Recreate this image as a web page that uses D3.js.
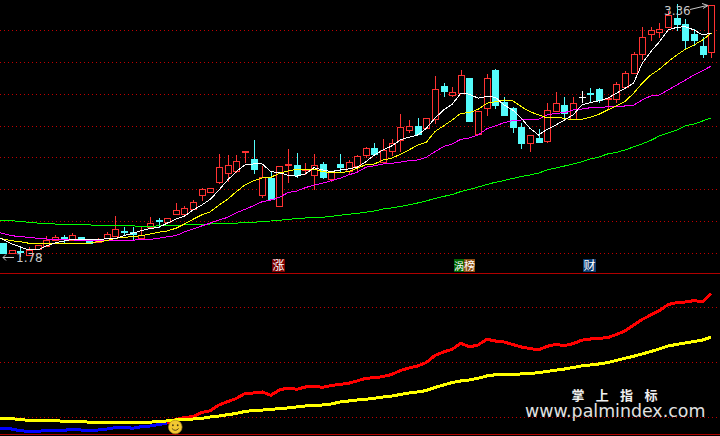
<!DOCTYPE html>
<html><head><meta charset="utf-8">
<style>html,body{margin:0;padding:0;background:#000;overflow:hidden}svg{display:block}</style>
<script src="https://cdn.jsdelivr.net/npm/d3@7/dist/d3.min.js"></script></head>
<body><svg id="c" width="720" height="436"></svg>
<script>
const opens=[1.863,1.797,1.814,1.789,1.825,1.844,1.882,1.902,1.882,1.900,1.875,1.869,1.894,1.907,1.941,1.929,1.894,1.963,2.010,1.995,2.045,2.047,2.078,2.166,2.185,2.248,2.304,2.317,2.426,2.388,2.166,2.273,2.097,2.346,2.351,2.315,2.288,2.357,2.265,2.357,2.317,2.346,2.415,2.457,2.373,2.442,2.508,2.574,2.598,2.585,2.642,2.847,2.794,2.807,2.899,2.545,2.712,2.949,2.748,2.711,2.591,2.493,2.522,2.505,2.694,2.727,2.640,2.781,2.807,2.828,2.762,2.765,2.844,2.929,3.048,3.173,3.186,3.217,3.276,3.238,3.175,3.100,3.064];
const closes=[1.800,1.819,1.806,1.819,1.850,1.882,1.900,1.888,1.913,1.882,1.863,1.885,1.919,1.951,1.936,1.922,1.913,1.988,1.998,2.020,2.070,2.081,2.118,2.200,2.206,2.338,2.351,2.376,2.439,2.328,2.275,2.141,2.348,2.359,2.290,2.327,2.355,2.275,2.309,2.342,2.370,2.407,2.457,2.422,2.445,2.489,2.589,2.596,2.547,2.646,2.828,2.817,2.809,2.916,2.629,2.692,2.897,2.729,2.667,2.593,2.493,2.541,2.499,2.698,2.740,2.677,2.740,2.781,2.802,2.761,2.770,2.859,2.929,3.048,3.155,3.198,3.205,3.295,3.238,3.138,3.138,3.050,3.357];
const highs=[1.863,1.819,1.838,1.838,1.850,1.907,1.913,1.913,1.926,1.900,1.875,1.894,1.932,2.032,1.966,1.965,1.965,2.026,2.022,2.020,2.114,2.097,2.133,2.210,2.206,2.422,2.415,2.415,2.439,2.510,2.346,2.313,2.348,2.453,2.428,2.363,2.420,2.371,2.309,2.420,2.384,2.415,2.468,2.489,2.516,2.516,2.671,2.633,2.646,2.646,2.911,2.868,2.841,2.949,2.899,2.692,2.924,2.956,2.778,2.717,2.615,2.541,2.577,2.740,2.809,2.778,2.778,2.817,2.834,2.834,2.770,2.872,2.943,3.062,3.219,3.217,3.246,3.320,3.364,3.270,3.207,3.155,3.357];
const lows=[1.800,1.797,1.781,1.789,1.825,1.844,1.882,1.863,1.882,1.882,1.863,1.869,1.894,1.907,1.913,1.888,1.894,1.963,1.963,1.988,2.045,2.047,2.078,2.133,2.185,2.241,2.252,2.311,2.373,2.304,2.154,2.141,2.097,2.248,2.279,2.296,2.200,2.269,2.254,2.315,2.301,2.321,2.405,2.415,2.373,2.415,2.442,2.562,2.547,2.585,2.618,2.788,2.786,2.807,2.629,2.545,2.667,2.709,2.667,2.562,2.461,2.441,2.499,2.499,2.694,2.635,2.640,2.750,2.750,2.750,2.709,2.750,2.844,2.929,3.018,3.138,3.155,3.217,3.200,3.079,3.106,3.033,3.033];
const ma5=[1.894,1.857,1.838,1.819,1.819,1.844,1.863,1.875,1.886,1.886,1.882,1.882,1.890,1.890,1.909,1.924,1.940,1.953,1.961,1.987,2.012,2.032,2.070,2.101,2.137,2.196,2.258,2.311,2.353,2.359,2.359,2.311,2.304,2.288,2.282,2.296,2.336,2.321,2.311,2.321,2.328,2.338,2.373,2.415,2.447,2.472,2.510,2.527,2.541,2.583,2.646,2.698,2.734,2.803,2.797,2.772,2.782,2.778,2.729,2.698,2.646,2.583,2.541,2.577,2.604,2.635,2.667,2.729,2.744,2.755,2.772,2.803,2.834,2.866,2.991,3.064,3.127,3.200,3.217,3.221,3.200,3.169,3.180];
const ma10=[1.892,1.877,1.871,1.861,1.861,1.857,1.857,1.857,1.857,1.857,1.861,1.871,1.877,1.892,1.899,1.902,1.909,1.919,1.930,1.938,1.955,1.982,2.012,2.039,2.059,2.101,2.137,2.185,2.227,2.254,2.271,2.275,2.301,2.315,2.326,2.326,2.326,2.311,2.304,2.304,2.311,2.332,2.355,2.359,2.384,2.395,2.420,2.447,2.478,2.495,2.562,2.598,2.635,2.677,2.681,2.702,2.740,2.750,2.761,2.756,2.719,2.687,2.667,2.648,2.652,2.646,2.635,2.640,2.652,2.671,2.698,2.723,2.750,2.803,2.866,2.918,2.954,3.001,3.043,3.079,3.106,3.138,3.180];
const ma30=[1.927,1.909,1.902,1.899,1.892,1.888,1.884,1.882,1.882,1.880,1.880,1.877,1.877,1.877,1.880,1.880,1.886,1.886,1.892,1.902,1.909,1.932,1.951,1.970,1.988,2.007,2.024,2.053,2.074,2.097,2.122,2.133,2.150,2.179,2.189,2.210,2.227,2.238,2.254,2.269,2.290,2.307,2.338,2.348,2.359,2.363,2.370,2.380,2.384,2.401,2.436,2.468,2.485,2.514,2.522,2.541,2.579,2.598,2.618,2.631,2.635,2.640,2.640,2.667,2.677,2.681,2.698,2.704,2.712,2.712,2.719,2.719,2.723,2.728,2.761,2.786,2.792,2.824,2.855,2.886,2.918,2.945,2.974];
const ma120=[2.005,2.003,1.997,1.993,1.988,1.987,1.982,1.980,1.980,1.976,1.976,1.974,1.974,1.971,1.970,1.970,1.968,1.968,1.970,1.971,1.974,1.976,1.978,1.980,1.982,1.984,1.987,1.988,1.990,1.993,1.997,2.001,2.005,2.012,2.015,2.020,2.022,2.024,2.030,2.037,2.043,2.049,2.056,2.064,2.076,2.083,2.092,2.103,2.114,2.127,2.142,2.155,2.167,2.186,2.199,2.214,2.230,2.244,2.255,2.268,2.280,2.290,2.302,2.321,2.334,2.346,2.359,2.373,2.390,2.403,2.422,2.431,2.447,2.466,2.485,2.507,2.535,2.554,2.572,2.598,2.610,2.629,2.648];
const fastLine=[-10.4,-10.9,-12.5,-13,-13,-12.2,-12.1,-12.1,-11.2,-11.8,-11.8,-11.8,-10.9,-9.7,-9.3,-10.2,-8.8,-8.2,-6.8,-5.7,-2.3,-0.3,0.3,4.1,5.7,10.9,13.9,16.8,21.3,21.8,22.7,19.7,24.5,26.3,25.1,27.2,27.8,26.9,28.6,29.5,30.6,32.7,35.1,35.6,36.7,38.5,42.2,44.4,46.3,49.4,55.8,59,61.4,66.8,63.5,65.3,70.5,68.9,68,65.8,63.5,62.1,60.8,64.1,65.9,64.7,66.5,69.6,70.7,71.4,71.9,74.8,78,83.4,88.4,92.5,96.4,102,103.7,104.3,105.5,104.6,112];
const slowLine=[-1.5,-1.5,-2.4,-3,-3,-3,-3.2,-3.9,-3.9,-3.9,-4.8,-4.8,-4.8,-4.8,-4.8,-4.8,-4.8,-4.8,-3.9,-3.6,-2.7,-2.4,-1.8,-1.2,0,0.9,2.1,3.2,5,5.9,6.3,6.8,7.7,8.2,9.1,10,10.6,10.9,11.8,13.6,14.5,15.4,16.1,17,18.1,19,20.4,21.8,22.7,24,26.8,29,31.3,32.7,33.6,35.1,37.2,38.3,38.7,38.8,39,39.5,40.2,41.3,42.4,43.5,44.9,46.3,47.2,48.1,49.4,51.2,53.2,55.1,57.1,59.4,61.7,64.4,65.8,67.1,68.5,69.8,72.6];
const priceGrid=[1.8,2.0,2.2,2.4,2.6,2.8,3.0,3.2];
const indicatorGrid=[0,50,100];
const lowLabel="1.78", highLabel="3.36";
const tags=[{t:"涨",bg:"#7a0000"},{t:"涡",bg:"#006400"},{t:"榜",bg:"#8a4b10"},{t:"财",bg:"#0a3a6e"}];
const brandCn=["掌","上","指","标"], brandUrl="www.palmindex.com";

const RED="#ff3232",CYAN="#54fcfc",GRID="#c00000";
const svg=d3.select("#c");
svg.append("rect").attr("width",720).attr("height",436).attr("fill","#000");
const n=opens.length;
const x=d3.scaleLinear().domain([0,n-1]).range([3.06,711.3]);
const y=d3.scaleLinear().domain([1.8,3.2]).range([253,30]);
const yi=d3.scaleLinear().domain([0,100]).range([417,306.7]);
const X=i=>Math.round(x(i));
const lx=i=>i===0?x(-0.36):x(i); // the first reading runs to the left edge of the plot

// grids
const grid=svg.append("g").attr("stroke",GRID).attr("stroke-width",1).attr("stroke-dasharray","1 3").attr("shape-rendering","crispEdges");
priceGrid.forEach(v=>grid.append("line").attr("x1",0).attr("x2",720).attr("y1",Math.round(y(v))+.5).attr("y2",Math.round(y(v))+.5));
indicatorGrid.forEach(v=>grid.append("line").attr("x1",0).attr("x2",720).attr("y1",Math.round(yi(v))+.5).attr("y2",Math.round(yi(v))+.5));
[273,434].forEach(p=>svg.append("line").attr("x1",0).attr("x2",720).attr("y1",p+.5).attr("y2",p+.5).attr("stroke","#b00000").attr("shape-rendering","crispEdges"));

// candles
const g=svg.append("g").attr("shape-rendering","crispEdges");
d3.range(n).forEach(i=>{
  const up=closes[i]>opens[i],flat=closes[i]===opens[i];
  const col=flat?"#fff":up?RED:CYAN;
  const top=Math.round(y(Math.max(opens[i],closes[i]))),bot=Math.round(y(Math.min(opens[i],closes[i])));
  const h=Math.round(y(highs[i])),l=Math.round(y(lows[i]));
  const cx=X(i);
  g.append("line").attr("x1",cx+.5).attr("x2",cx+.5).attr("y1",h).attr("y2",l+1).attr("stroke",col);
  if(flat){g.append("line").attr("x1",cx-3).attr("x2",cx+4).attr("y1",top+.5).attr("y2",top+.5).attr("stroke",col);}
  else if(up){
    if(bot-top<3){g.append("rect").attr("x",cx-3).attr("y",top).attr("width",7).attr("height",2).attr("fill",col);}
    else{g.append("rect").attr("x",cx-3+.5).attr("y",top+.5).attr("width",6).attr("height",bot-top).attr("fill","#000").attr("stroke",col);}
  } else {
    g.append("rect").attr("x",cx-3).attr("y",top).attr("width",7).attr("height",Math.max(bot-top+1,2)).attr("fill",col);
  }
});

// moving averages
const line=d3.line().x((d,i)=>lx(i)).y(d=>y(d));
[[ma120,"#00ff00"],[ma30,"#ff00ff"],[ma10,"#ffff00"],[ma5,"#ffffff"]].forEach(([s,c])=>
  svg.append("path").attr("d",line(s)).attr("fill","none").attr("stroke",c).attr("stroke-width",1).attr("shape-rendering","crispEdges"));

// indicator: fast line changes colour where it crosses the slow one
const ilineF=d3.line().x(d=>lx(d)).y(d=>yi(fastLine[d]));
const ilineS=d3.line().x((d,i)=>lx(i)).y(d=>yi(d));
const cross=d3.range(n).findIndex(i=>fastLine[i]>slowLine[i]);
const thick=p=>p.attr("fill","none").attr("stroke-width",3).attr("shape-rendering","crispEdges");
svg.append("path").attr("d",ilineF(d3.range(0,cross))).attr("stroke","#0000ff").call(thick);
svg.append("path").attr("d",ilineF(d3.range(cross-1,n))).attr("stroke","#ff0000").call(thick);
svg.append("path").attr("d",ilineS(slowLine)).attr("stroke","#ffff00").call(thick);

// smiley at the crossing
const sm=svg.append("g").attr("transform",`translate(${x(cross)-.5},${yi(fastLine[cross])+7.5})`);
sm.append("circle").attr("r",6.8).attr("fill","#f2c832").attr("stroke","#b08a20").attr("stroke-width",.7);
[-2.4,2.4].forEach(dx=>sm.append("circle").attr("cx",dx).attr("cy",-1.8).attr("r",.9).attr("fill","#4a3a10"));
sm.append("path").attr("d","M-3.4,1.4 Q0,5.2 3.4,1.4").attr("fill","none").attr("stroke","#4a3a10").attr("stroke-width",.9);

// extreme labels
const lab="#c8c8c8";
svg.append("text").attr("x",16).attr("y",262).attr("fill",lab).attr("font-family","'DejaVu Sans'").attr("font-size",12).text(lowLabel);
svg.append("path").attr("d","M14,257.5H3M6,254.5L3,257.5L6,260.5").attr("fill","none").attr("stroke",lab);
svg.append("text").attr("x",664).attr("y",15).attr("fill",lab).attr("font-family","'DejaVu Sans'").attr("font-size",12).text(highLabel);
svg.append("path").attr("d","M690,9.5L707,5.5M702,3.5L708,5.5L703,8.5").attr("fill","none").attr("stroke",lab);

// tags
[[272,13],[454,10],[464,11],[583,13]].forEach(([tx,tw],i)=>{
  svg.append("rect").attr("x",tx).attr("y",259).attr("width",tw).attr("height",13).attr("fill",tags[i].bg);
  svg.append("text").attr("x",tx+tw/2).attr("y",270).attr("text-anchor","middle").attr("fill","#fff").attr("font-family","'Noto Sans CJK SC'").attr("font-size",Math.min(tw,12)).text(tags[i].t);
});

// brand
brandCn.forEach((c,i)=>svg.append("text").attr("x",578+i*24.3).attr("y",400).attr("text-anchor","middle").attr("fill","#f0f0f0").attr("font-weight","bold").attr("font-family","'Noto Sans CJK SC'").attr("font-size",13).text(c));
svg.append("text").attr("x",525).attr("y",417).attr("fill","#e0e0e0").attr("font-family","'DejaVu Sans'").attr("font-size",17.4).text(brandUrl);
</script></body></html>
